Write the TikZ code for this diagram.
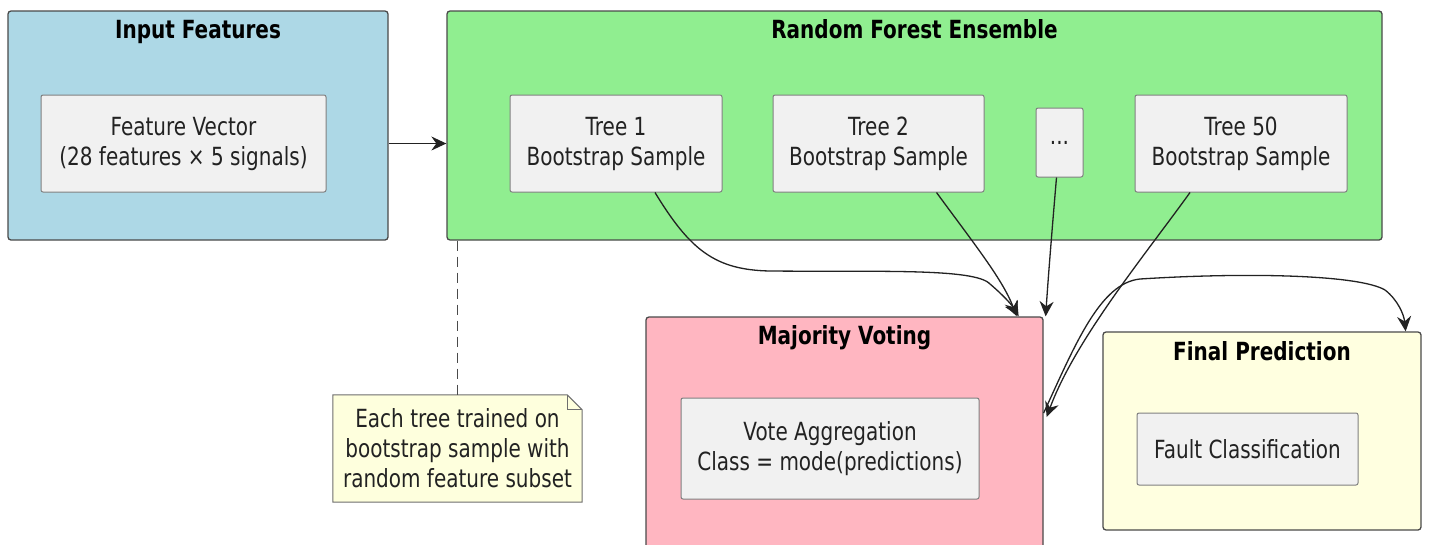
\documentclass[tikz,border=0pt]{standalone}
\usepackage{fontspec}
\setmainfont{DejaVu Sans}[FakeStretch=0.8]
\usetikzlibrary{arrows.meta,calc}
\definecolor{inblue}{HTML}{ADD8E6}
\definecolor{forestgreen}{HTML}{90EE90}
\definecolor{votepink}{HTML}{FFB6C1}
\definecolor{predyellow}{HTML}{FFFFE0}
\definecolor{notefill}{HTML}{FEFFDD}
\definecolor{boxfill}{HTML}{F1F1F1}
\definecolor{edge}{HTML}{222222}
\definecolor{frame}{HTML}{4A4A4A}
\definecolor{txt}{HTML}{222222}
\begin{document}
\begin{tikzpicture}[x=1pt,y=-1pt,
  every node/.style={font=\fontsize{25}{30}\selectfont, text=txt},
  container/.style={draw=frame, line width=1.3pt, rounded corners=3pt, inner sep=0pt},
  title/.style={font=\bfseries\fontsize{25}{30}\selectfont, text=black, anchor=base, inner sep=0pt},
  itembox/.style={draw=frame!70, line width=1pt, fill=boxfill, rounded corners=2pt, align=center, inner sep=0pt},
  conn/.style={draw=edge, line width=1.3pt, -{Stealth[length=15pt,width=14pt,inset=5pt]}},
]
\useasboundingbox (0,0) rectangle (1430,544);
\fill[white] (0,0) rectangle (1430,544);

% containers
\node[container, fill=inblue, minimum width=380pt, minimum height=229pt] (inp) at (198,125.5) {};
\node[container, fill=forestgreen, minimum width=935pt, minimum height=229pt] (ens) at (914.5,125.5) {};
\node[container, fill=votepink, minimum width=397pt, minimum height=232pt] (mv) at (844.5,433) {};
\node[container, fill=predyellow, minimum width=318pt, minimum height=198pt] (fp) at (1262,431) {};

% container titles
\node[title] (tinp) at ([yshift=-28pt]inp.north) {Input Features};
\node[title] (tens) at ([yshift=-28pt]ens.north) {Random Forest Ensemble};
\node[title] (tmv) at ([yshift=-28pt]mv.north) {Majority Voting};
\node[title] (tfp) at ([yshift=-29pt]fp.north) {Final Prediction};

% inner boxes
\node[itembox, minimum width=285pt, minimum height=97pt] (fv) at (183.5,143.5) {Feature Vector\\(28 features × 5 signals)};
\node[itembox, minimum width=212pt, minimum height=97pt] (t1) at (616,143.5) {Tree 1\\Bootstrap Sample};
\node[itembox, minimum width=211pt, minimum height=97pt] (t2) at (878.5,143.5) {Tree 2\\Bootstrap Sample};
\node[itembox, minimum width=47pt, minimum height=69pt] (dots) at (1059.5,142.5) {...};
\node[itembox, minimum width=212pt, minimum height=97pt] (t50) at (1241,143.5) {Tree 50\\Bootstrap Sample};
\node[itembox, minimum width=298pt, minimum height=101pt] (va) at (830,448.5) {Vote Aggregation\\Class = mode(predictions)};
\node[itembox, minimum width=221pt, minimum height=72pt] (fc) at (1247.5,449) {Fault Classification};

% note with folded corner
\node[minimum width=249pt, minimum height=107pt, inner sep=0pt] (note) at (457.5,448.5) {};
\fill[notefill] (note.north west) -- ([xshift=-15pt]note.north east) -- ([yshift=-15pt]note.north east) -- (note.south east) -- (note.south west) -- cycle;
\draw[frame!80, line width=1pt] (note.north west) -- ([xshift=-15pt]note.north east) -- ([yshift=-15pt]note.north east) -- (note.south east) -- (note.south west) -- cycle;
\draw[frame!80, line width=1pt] ([xshift=-15pt]note.north east) -- ([xshift=-15pt,yshift=-15pt]note.north east) -- ([yshift=-15pt]note.north east);
\node[align=center] (notetext) at (note.center) {Each tree trained on\\bootstrap sample with\\random feature subset};
\draw[frame, line width=1pt, dash pattern=on 10pt off 6pt] (note.north |- ens.south) -- (note.north);

% connectors
\draw[conn] (inp.east |- fv.east) -- (ens.west |- fv.east);
\draw[conn] ([xshift=39pt]t1.south) .. controls (690,250) and (715,270) .. (770,271)
  .. controls (880,272) and (975,268) .. (990,284) .. controls (1003,295) and (1012,305) .. ([xshift=-25pt]mv.north east);
\draw[conn] ([xshift=58pt]t2.south) .. controls (975,245) and (1003,280) .. ([xshift=-27pt]mv.north east);
\draw[conn] ([xshift=-3pt]dots.south) .. controls (1052,230) and (1048,280) .. ([xshift=2pt]mv.north east);
\draw[conn] ([xshift=-51pt]t50.south) .. controls (1145,255) and (1075,340) .. ([xshift=3pt,yshift=16pt]mv.east);
\draw[conn] ([yshift=20pt]mv.east) .. controls (1075,345) and (1100,283) .. (1140,279)
  .. controls (1250,272) and (1360,275) .. (1385,290) .. controls (1398,300) and (1404,315) .. ([xshift=-16pt]fp.north east);
\end{tikzpicture}
\end{document}
